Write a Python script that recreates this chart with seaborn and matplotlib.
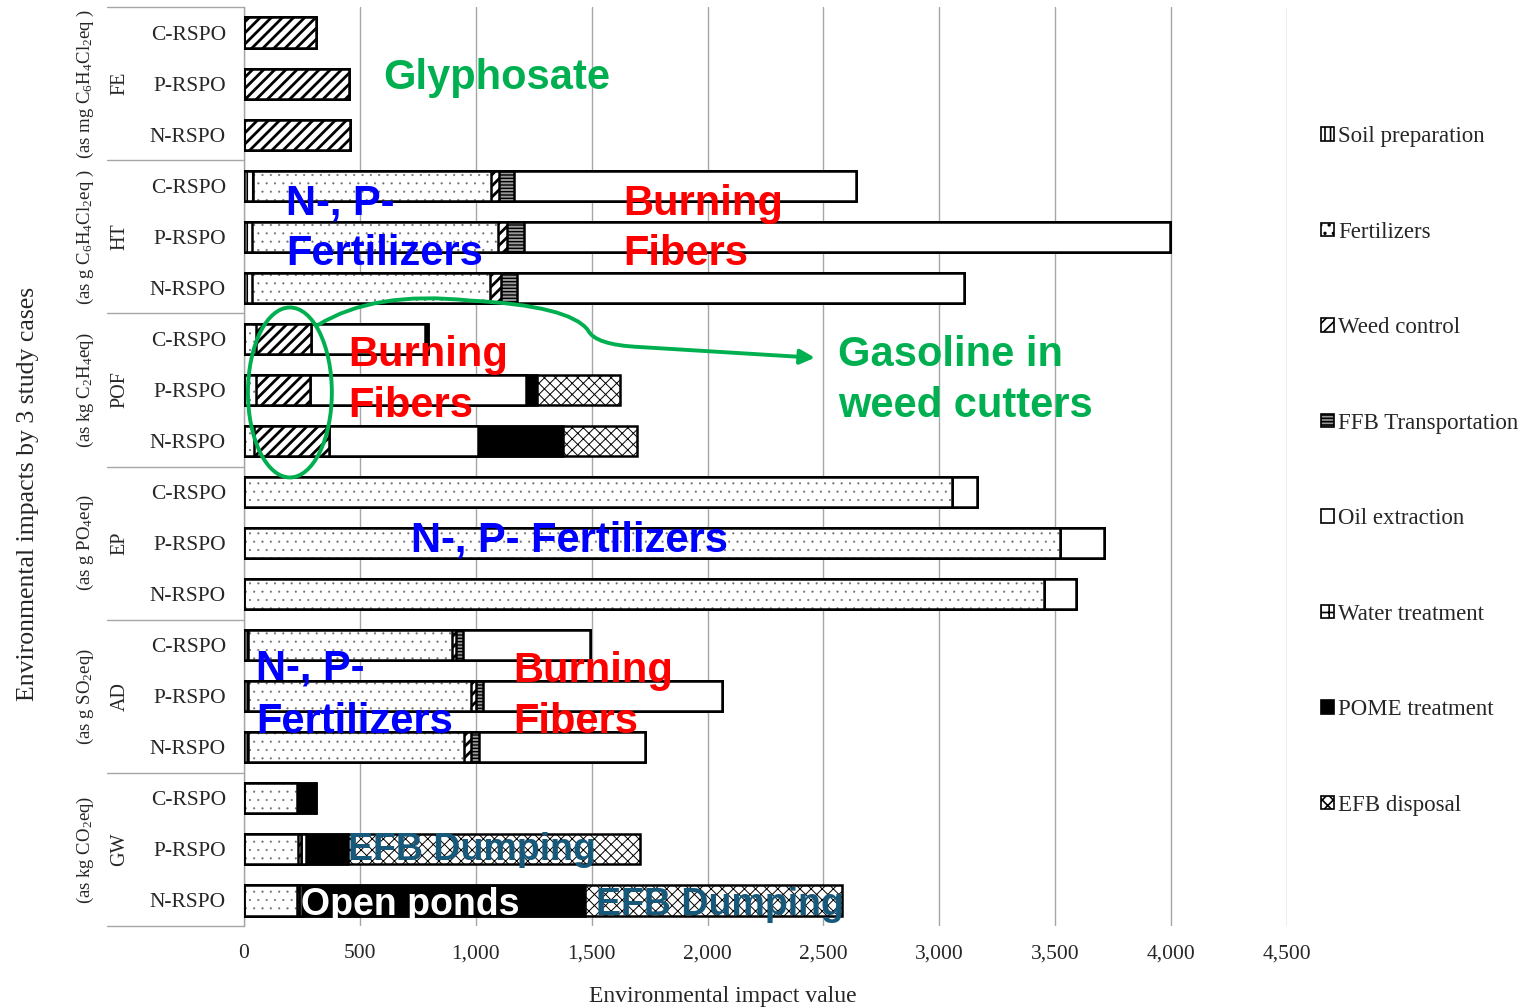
import numpy as np
import pandas as pd
import matplotlib
matplotlib.use("Agg")
import matplotlib.pyplot as plt
import matplotlib.colors as mcolors
import seaborn as sns
from matplotlib.patches import Patch, Ellipse, FancyArrowPatch
from matplotlib.path import Path
from matplotlib.ticker import FuncFormatter

# ---------------- data ----------------
categories = ["FE", "HT", "POF", "EP", "AD", "GW"]
units = [r"(as mg C$_6$H$_4$Cl$_2$eq )", r"(as g C$_6$H$_4$Cl$_2$eq )",
         r"(as kg C$_2$H$_4$eq)", r"(as g PO$_4$eq)", r"(as g SO$_2$eq)",
         r"(as kg CO$_2$eq)"]
cases = ["C-RSPO", "P-RSPO", "N-RSPO"]
stages = ["Soil preparation", "Fertilizers", "Weed control", "FFB Transportation",
          "Oil extraction", "Water treatment", "POME treatment", "EFB disposal"]

soil_preparation   = [0, 0, 0,   39, 35, 35,     0, 0, 0,      0, 0, 0,         17, 17, 17,     0, 0, 0]
fertilizers        = [0, 0, 0,   1027, 1061, 1027, 52, 50, 43, 3054, 3520, 3451, 880, 962, 932,  228, 233, 228]
weed_control       = [310, 453, 457, 35, 39, 47, 237, 233, 324,  0, 0, 0,         17, 22, 30,     0, 15, 10]
ffb_transportation = [0, 0, 0,   65, 73, 69,     0, 0, 0,      0, 0, 0,         30, 30, 35,     0, 0, 0]
oil_extraction     = [0, 0, 0,   1475, 2787, 1928, 492, 932, 643, 108, 190, 138, 548, 1031, 716, 0, 20, 12]
water_treatment    = [0, 0, 0,   0, 0, 0,        0, 0, 0,      0, 0, 0,         0, 0, 0,        0, 0, 0]
pome_treatment     = [0, 0, 0,   0, 0, 0,        13, 47, 367,  0, 0, 0,         0, 0, 0,        82, 181, 1221]
efb_disposal       = [0, 0, 0,   0, 0, 0,        0, 362, 319,  0, 0, 0,         0, 0, 0,        0, 1260, 1109]

xticks = [0, 500, 1000, 1500, 2000, 2500, 3000, 3500, 4000, 4500]

series = [soil_preparation, fertilizers, weed_control, ffb_transportation,
          oil_extraction, water_treatment, pome_treatment, efb_disposal]

# ---------------- styles ----------------
styles = {
    "Soil preparation":   dict(color="white", hatch="|||", hlw=1.2, hc="black"),
    "Fertilizers":        dict(color="white", hatch="..", hlw=0.3, hc="#6e6e6e"),
    "Weed control":       dict(color="white", hatch="///", hlw=2.0, hc="black"),
    "FFB Transportation": dict(color="#9a9a9a", hatch="-----", hlw=1.0, hc="black"),
    "Oil extraction":     dict(color="white", hatch=None, hlw=1.0, hc="black"),
    "Water treatment":    dict(color="white", hatch="++", hlw=1.5, hc="black"),
    "POME treatment":     dict(color="black", hatch=None, hlw=1.0, hc="black"),
    "EFB disposal":       dict(color="white", hatch="xxx", hlw=0.7, hc="black"),
}

rows = [f"{c}|{k}" for c in categories for k in cases]
vals = np.array(series, dtype=float)          # stages x rows
cum = np.cumsum(vals, axis=0)
records = []
for si, s in enumerate(stages):
    for ri, r in enumerate(rows):
        records.append(dict(row=r, stage=s, cum=cum[si, ri]))
df = pd.DataFrame(records)

# ---------------- figure ----------------
sns.set_style("white")
plt.rcParams["font.family"] = ["Liberation Serif", "DejaVu Serif"]
plt.rcParams["mathtext.fontset"] = "custom"
plt.rcParams["mathtext.rm"] = "Liberation Serif"
plt.rcParams["mathtext.it"] = "Liberation Serif:italic"
plt.rcParams["mathtext.bf"] = "Liberation Serif:bold"

W, H = 1527, 1008
fig = plt.figure(figsize=(W / 100, H / 100), dpi=100)
ax = fig.add_axes([244 / W, 1 - 926 / H, (1287 - 244) / W, (926 - 7) / H])


def style_patch(p, st):
    p.set_facecolor(st["color"])
    if hasattr(p, "set_hatch_linewidth"):
        p.set_hatch_linewidth(st["hlw"])
    if hasattr(p, "set_hatchcolor"):
        p.set_hatchcolor(st["hc"])
    else:
        p._hatch_color = mcolors.to_rgba(st["hc"])


for si in range(len(stages) - 1, -1, -1):
    s = stages[si]
    st = styles[s]
    before = len(ax.patches)
    plt.rcParams["hatch.linewidth"] = st["hlw"]
    kw = {}
    if st["hatch"]:
        kw["hatch"] = st["hatch"]
    sns.barplot(data=df[df.stage == s], x="cum", y="row", order=rows, orient="h",
                color=st["color"], saturation=1, edgecolor="black", linewidth=1.8,
                width=0.59, ax=ax, errorbar=None, zorder=3, **kw)
    for p in ax.patches[before:]:
        style_patch(p, st)

ax.set_xlim(0, 4500)
ax.set_ylim(17.5, -0.5)
ax.set_xticks(xticks)
ax.xaxis.set_major_formatter(FuncFormatter(lambda v, p: f"{int(v):,}"))
ax.set_yticks(range(len(rows)))
ax.set_yticklabels([r.split("|")[1] for r in rows])
ax.tick_params(axis="y", length=0, pad=13, labelsize=15.5)
ax.tick_params(axis="x", length=0, pad=13, labelsize=15.5)
ax.grid(axis="x", color="#a6a6a6", lw=1, zorder=0)
ax.grid(axis="y", visible=False)
for sp in ["top", "right", "bottom"]:
    ax.spines[sp].set_visible(False)
ax.spines["left"].set_color("#a6a6a6")
ax.spines["left"].set_linewidth(1)
ax.set_xlabel("Environmental impact value", fontsize=17)
ax.xaxis.set_label_coords((723 - 244) / 1043, (926 - 986) / 919)
ax.set_ylabel("")

# group separators and labels
ytr = ax.get_yaxis_transform()
for b in [-0.5, 2.5, 5.5, 8.5, 11.5, 14.5, 17.5]:
    ax.plot([-0.131, 0], [b, b], color="#a6a6a6", lw=1, transform=ytr, clip_on=False)
for gi, (c, u) in enumerate(zip(categories, units)):
    yc = gi * 3 + 1
    ax.text(-0.119, yc, c, rotation=90, ha="center", va="center", fontsize=14.5, transform=ytr)
    ax.text(-0.152, yc, u, rotation=90, ha="center", va="center", fontsize=13.5, transform=ytr)
fig.text(28 / W, 1 - 494 / H, "Environmental impacts by 3 study cases", rotation=90,
         ha="center", va="center", fontsize=18.5)

# ---------------- annotations ----------------
sans = ["Liberation Sans", "DejaVu Sans"]
def note(x, y, s, color, size=30):
    ax.text(x, y, s, color=color, fontsize=size, fontweight="bold", family=sans,
            ha="left", va="baseline", zorder=6)

green, blue, red, teal = "#00B050", "#0000FF", "#FF0000", "#17597A"
note(600, 1.10, "Glyphosate", green)
note(181, 3.57, "N-, P-", blue)
note(181, 4.55, "Fertilizers", blue)
note(1635, 3.57, "Burning", red)
note(1635, 4.55, "Fibers", red)
note(449, 6.53, "Burning", red)
note(449, 7.53, "Fibers", red)
note(2563, 6.53, "Gasoline in", green)
note(2563, 7.53, "weed cutters", green)
note(720, 10.17, "N-, P- Fertilizers", blue)
note(52, 12.68, "N-, P-", blue)
note(52, 13.72, "Fertilizers", blue)
note(1160, 12.72, "Burning", red)
note(1160, 13.72, "Fibers", red)
note(449, 16.2, "EFB Dumping", teal, 27)
note(246, 17.28, "Open ponds", "white", 27)
note(1519, 17.28, "EFB Dumping", teal, 27)

ax.add_patch(Ellipse((198, 7.05), 362, 3.33, fill=False, edgecolor=green, lw=2.8, zorder=7))
verts = [(319, 5.73), (560, 5.05), (975, 5.25), (1406, 5.35), (1484, 5.83),
         (1514, 6.12), (1708, 6.16), (2463, 6.37)]
codes = [Path.MOVETO, Path.CURVE3, Path.CURVE3, Path.CURVE3, Path.CURVE3,
         Path.CURVE3, Path.CURVE3, Path.LINETO]
ax.add_patch(FancyArrowPatch(path=Path(verts, codes), arrowstyle="-|>", mutation_scale=22,
                             color=green, lw=2.8, zorder=7))

# ---------------- legend ----------------
handles = []
for s in stages:
    st = styles[s]
    hp = Patch(facecolor=st["color"], edgecolor="black", hatch=st["hatch"], lw=1.2, label=s)
    handles.append(hp)
leg = fig.legend(handles=handles, loc="upper left", bbox_to_anchor=(1312 / W, 1 - 117 / H),
                 frameon=False, fontsize=16.5, handlelength=0.55, handleheight=0.55,
                 handletextpad=0.2, labelspacing=3.25, borderaxespad=0)

fig.savefig("out.png", dpi=100)
